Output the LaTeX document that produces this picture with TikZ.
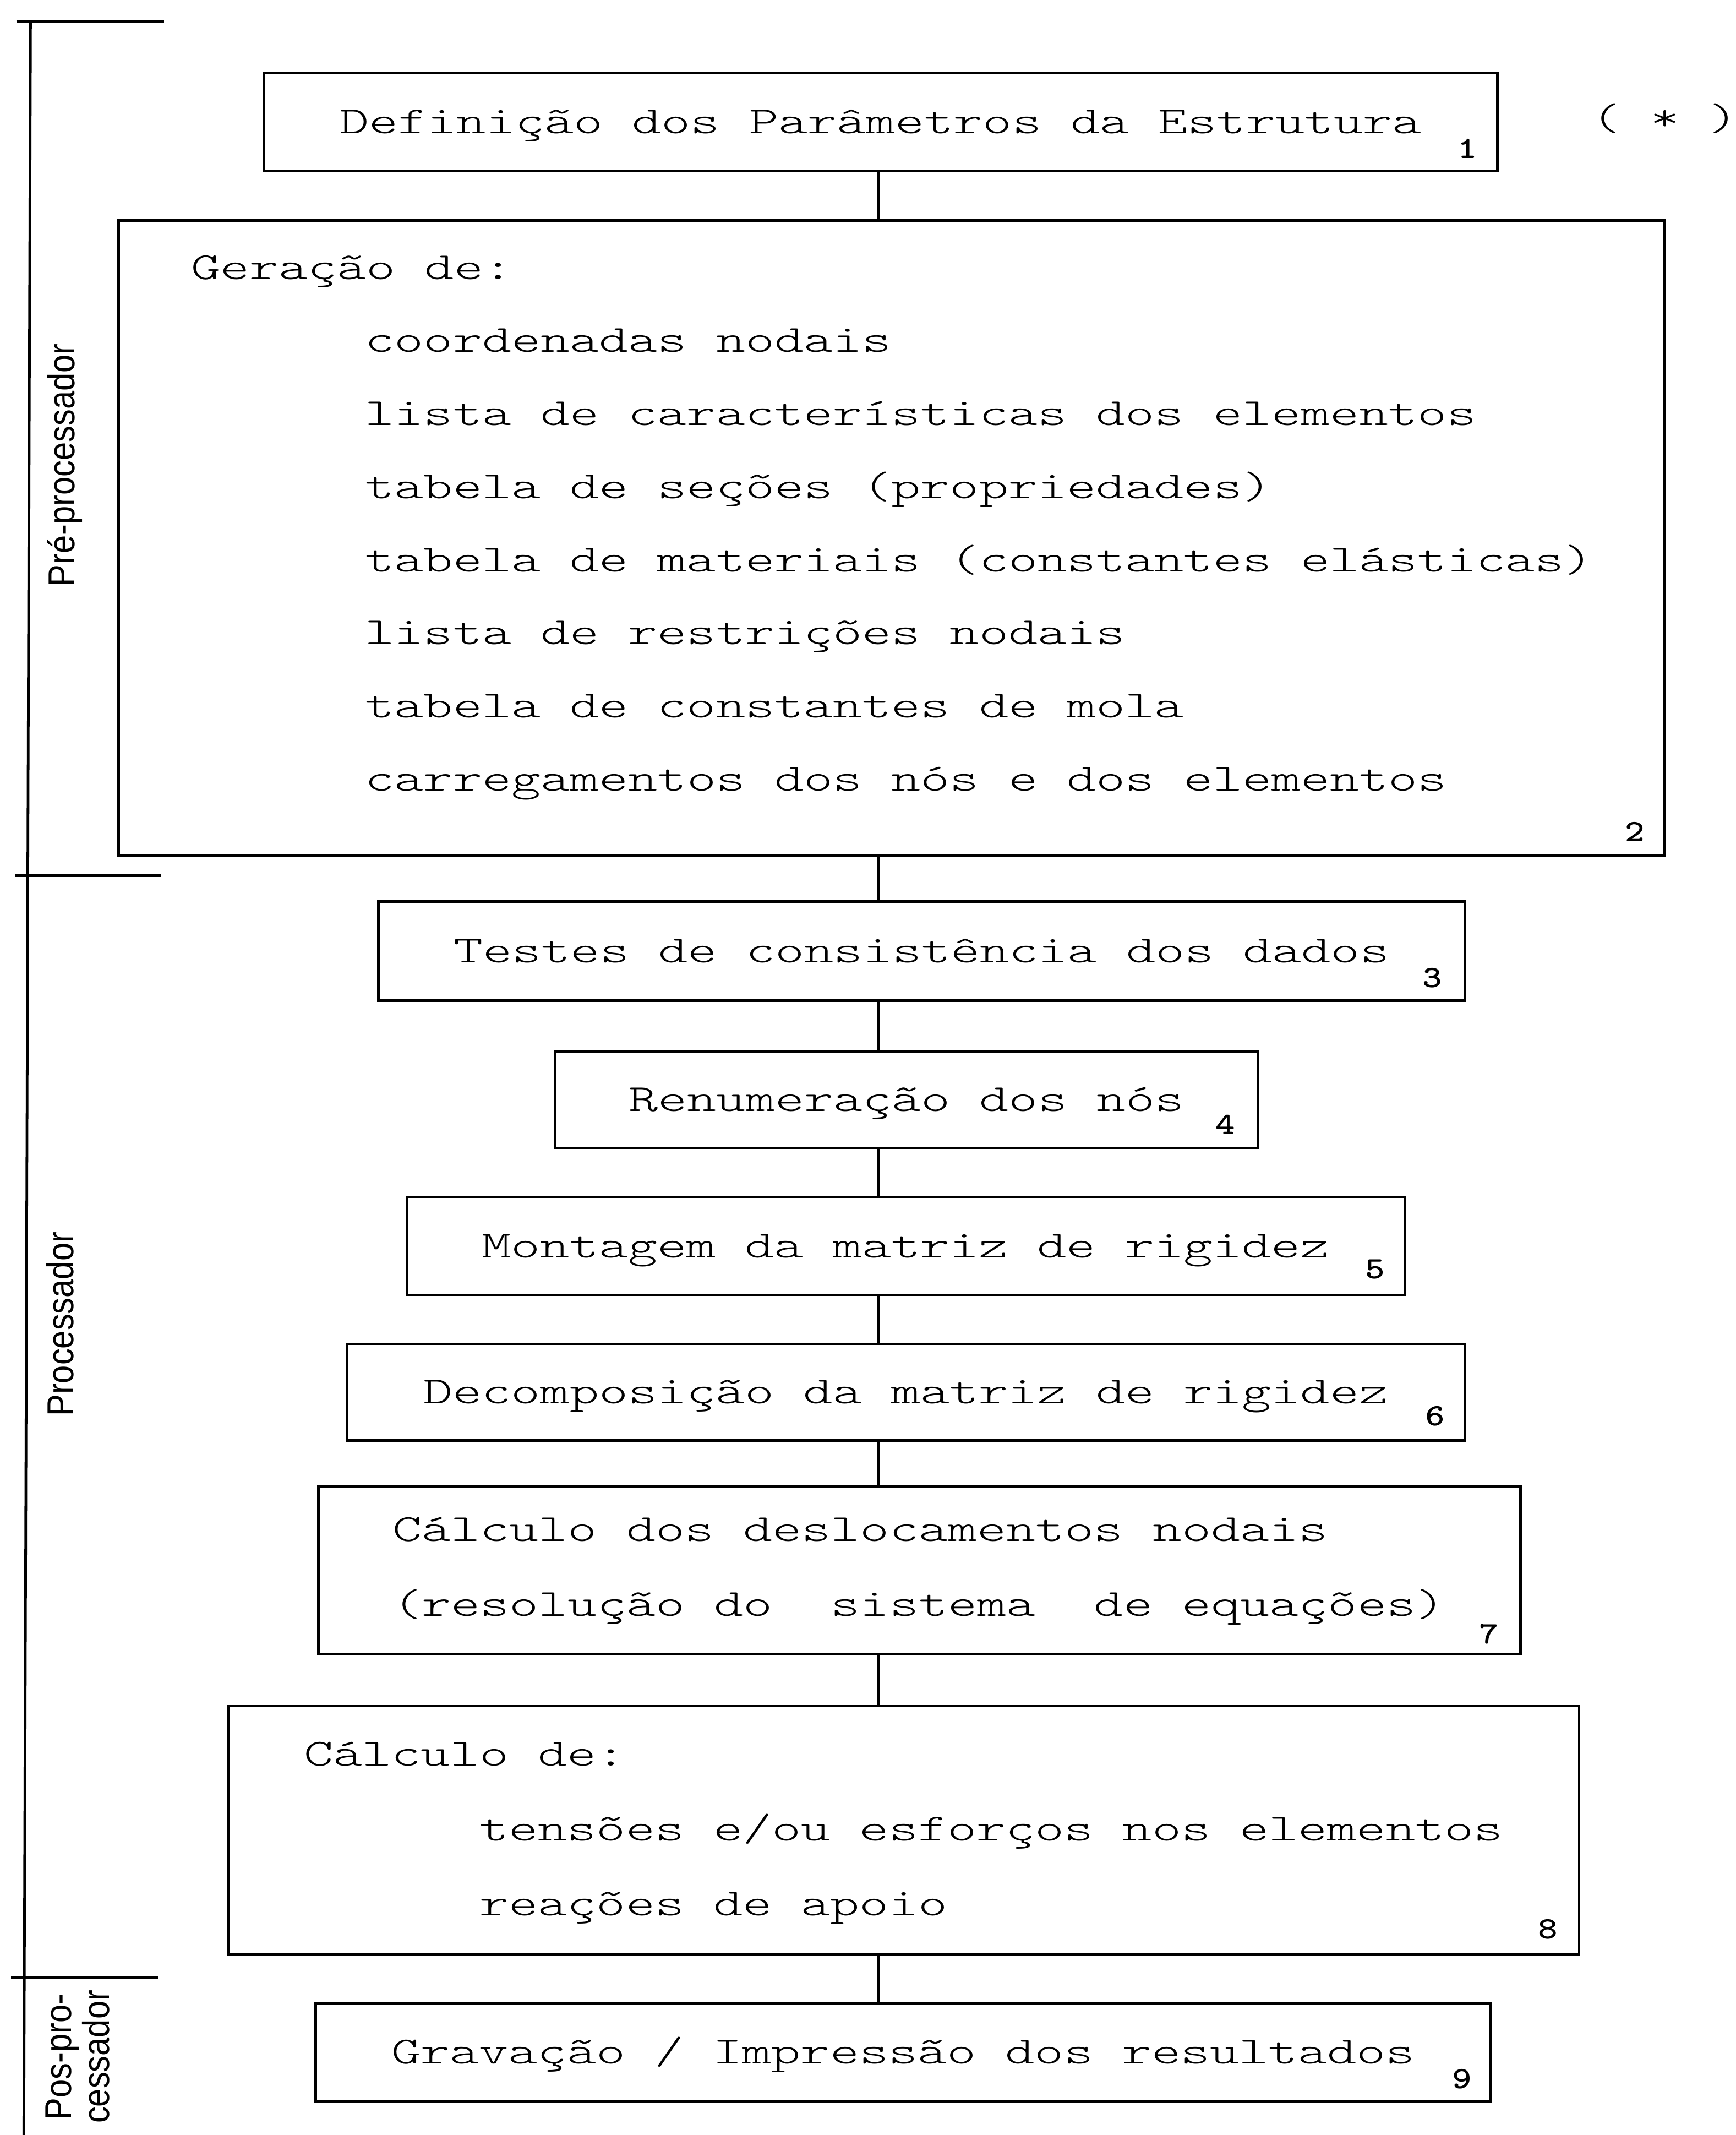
\documentclass[tikz,border=0pt]{standalone}
\usepackage{fontspec}
\usepackage{graphicx}
\newfontfamily\dotfont[FakeStretch=1.455]{lmmonolt10-regular.otf}
\newfontfamily\numfont[FakeStretch=1.2]{lmmonolt10-bold.otf}
\newfontfamily\sidefont{Liberation Sans}
\tikzstyle{link}  = [line width=1.1pt]
\tikzstyle{block} = [draw, line width=1.1pt, inner sep=0pt, text height=3.4mm, text depth=0pt, font=\dotfont\fontsize{16pt}{20pt}\selectfont]
\tikzstyle{txt}   = [inner sep=0pt, anchor=base west, font=\dotfont\fontsize{16pt}{20pt}\selectfont]
\tikzstyle{num}   = [inner sep=0pt, font=\numfont\fontsize{13pt}{15pt}\selectfont]
\tikzstyle{side}  = [inner sep=0pt, rotate=90, anchor=base, font=\sidefont\fontsize{15.6pt}{18pt}\selectfont]

\begin{document}
\begin{tikzpicture}[x=0.2mm, y=-0.2mm]

    \useasboundingbox (0,0) rectangle (1275,1568);

    % blocos do fluxograma
    \node[block, minimum width=181.2mm, minimum height=14.4mm] (B1) at (647,89.5) {Definição dos Parâmetros da Estrutura};
    \node[block, minimum width=227.2mm, minimum height=93.2mm] (B2) at (655,395) {};
    \node[block, minimum width=159.6mm, minimum height=14.6mm] (B3) at (677,698.5) {Testes de consistência dos dados};
    \node[block, minimum width=103.2mm, minimum height=14.2mm] (B4) at (666,807.5) {Renumeração dos nós};
    \node[block, minimum width=146.6mm, minimum height=14.4mm] (B5) at (665.5,915) {Montagem da matriz de rigidez};
    \node[block, minimum width=164.2mm, minimum height=14.2mm] (B6) at (665.5,1022.5) {Decomposição da matriz de rigidez};
    \node[block, minimum width=176.6mm, minimum height=24.6mm] (B7) at (675.5,1153.5) {};
    \node[block, minimum width=198.4mm, minimum height=36.4mm] (B8) at (664,1344) {};
    \node[block, minimum width=172.6mm, minimum height=14.4mm] (B9) at (663.5,1507) {Gravação / Impressão dos resultados};

    \node[txt, anchor=base] (ast) at (1223,95.5) {( * )};

    % textos dos blocos 2, 7 e 8
    \node[txt] (G0) at (140,205) {Geração de:};
    \node[txt] (G1) at (268,258.7) {coordenadas nodais};
    \node[txt] (G2) at (268,312.4) {lista de características dos elementos};
    \node[txt] (G3) at (268,366) {tabela de seções (propriedades)};
    \node[txt] (G4) at (268,419.7) {tabela de materiais (constantes elásticas)};
    \node[txt] (G5) at (268,473.4) {lista de restrições nodais};
    \node[txt] (G6) at (268,527) {tabela de constantes de mola};
    \node[txt] (G7) at (268,580.8) {carregamentos dos nós e dos elementos};

    \node[txt] (C1) at (288,1132) {Cálculo dos deslocamentos nodais};
    \node[txt] (C2) at (288,1187) {(resolução do\ \ sistema\ \ de equações)};

    \node[txt] (D0) at (223,1297) {Cálculo de:};
    \node[txt] (D1) at (352,1352) {tensões e/ou esforços nos elementos};
    \node[txt] (D2) at (352,1407) {reações de apoio};

    % numeros
    \node[num] (N1) at (1078,109) {1};
    \node[num] (N2) at (1201,611) {2};
    \node[num] (N3) at (1052,718) {3};
    \node[num] (N4) at (900,826) {4};
    \node[num] (N5) at (1010,932) {5};
    \node[num] (N6) at (1054,1040) {6};
    \node[num] (N7) at (1094,1200) {7};
    \node[num] (N8) at (1137,1417) {8};
    \node[num] (N9) at (1074,1527) {9};

    % ligacoes
    \coordinate (spine) at (645,0);
    \draw[link] (B1.south -| spine) -- (B2.north -| spine);
    \draw[link] (B2.south -| spine) -- (B3.north -| spine);
    \draw[link] (B3.south -| spine) -- (B4.north -| spine);
    \draw[link] (B4.south -| spine) -- (B5.north -| spine);
    \draw[link] (B5.south -| spine) -- (B6.north -| spine);
    \draw[link] (B6.south -| spine) -- (B7.north -| spine);
    \draw[link] (B7.south -| spine) -- (B8.north -| spine);
    \draw[link] (B8.south -| spine) -- (B9.north -| spine);

    % chave lateral
    \draw[link] (12,16) -- (120.6,16);
    \draw[link] (22.4,16) -- (17.5,1568);
    \draw[link] (11,643) -- (118.6,643);
    \draw[link] (8,1452) -- (116,1452);

    \node[side] (pre)  at (54.6,341.5) {\scalebox{0.88}[1]{Pré-processador}};
    \node[side] (proc) at (54,972.5)   {\scalebox{0.88}[1]{Processador}};
    \node[side] (pos1) at (52.3,1510.5) {\scalebox{0.88}[1]{Pos-pro-}};
    \node[side] (pos2) at (80.3,1510.5) {\scalebox{0.88}[1]{cessador}};

\end{tikzpicture}
\end{document}
